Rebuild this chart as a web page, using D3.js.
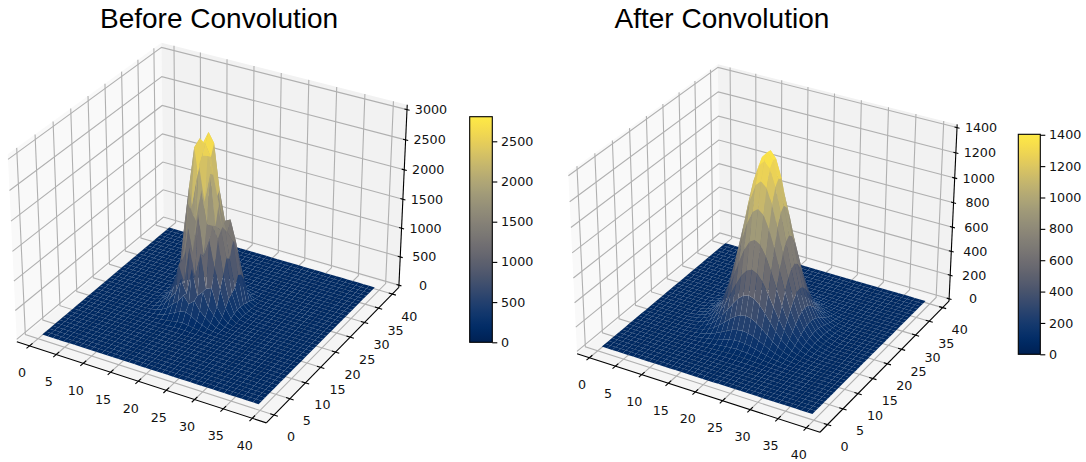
<!DOCTYPE html>
<html>
<head>
<meta charset="utf-8">
<script src="https://d3js.org/d3.v7.min.js"></script>
<style>
  body { margin: 0; background: #fff; }
  text { font-family: "DejaVu Sans", sans-serif; font-size: 12.7px; fill: #111; }
  .title { font-family: "Liberation Sans", sans-serif; font-size: 28px; fill: #000; }
</style>
</head>
<body>
<svg id="chart" width="1086" height="462"></svg>
<script>
const axisTicks = [0, 5, 10, 15, 20, 25, 30, 35, 40];
const beforeZTicks = [0, 500, 1000, 1500, 2000, 2500, 3000];
const afterZTicks = [0, 200, 400, 600, 800, 1000, 1200, 1400];
const beforeBarTicks = [0, 500, 1000, 1500, 2000, 2500];
const afterBarTicks = [0, 200, 400, 600, 800, 1000, 1200, 1400];

// values read off the bump, everything outside these tables is flat floor
// rows are y, columns are x
const beforeStartX = 9, beforeStartY = 12;
const beforePeak = [
  [0,0,0,0,0,2,5,9,14,20,16,9,6,3,1,0,0,0,0],
  [0,0,0,2,6,14,28,42,60,72,58,40,24,12,5,2,0,0,0],
  [0,0,2,8,20,48,90,140,190,210,170,110,70,35,14,5,1,0,0],
  [0,1,6,22,60,110,210,290,420,300,380,240,150,80,32,10,2,0,0],
  [0,2,14,45,120,240,360,620,400,850,420,520,280,170,62,20,5,1,0],
  [0,4,22,85,190,370,800,500,1150,650,1100,520,560,260,120,34,9,2,0],
  [1,6,36,120,300,560,820,1500,1000,1700,1000,1300,850,520,220,70,16,3,0],
  [1,8,44,160,340,700,900,1700,1500,2050,1500,1500,1300,720,330,100,24,5,1],
  [1,9,52,170,420,900,1700,1500,2400,1800,2300,1450,1400,950,380,120,30,6,1],
  [1,8,48,180,650,1100,1560,2100,2500,2520,2240,1780,1480,900,430,120,28,5,1],
  [1,7,60,260,1100,1850,2550,2720,2650,2460,1800,1350,1280,1150,600,110,26,5,1],
  [1,6,40,190,950,1500,2120,2600,2806,2650,1900,1400,1450,1100,560,90,20,4,0],
  [0,3,20,110,360,800,1280,1560,1900,1960,1320,1280,1040,800,420,70,14,3,0],
  [0,2,12,60,180,400,680,900,1100,1160,1240,1150,800,440,170,42,9,1,0],
  [0,1,6,26,80,180,320,450,560,620,640,520,320,130,50,14,3,0,0],
  [0,0,2,10,30,70,130,190,250,280,260,200,110,50,20,6,1,0,0],
  [0,0,1,4,11,24,44,66,90,100,90,64,38,16,7,2,0,0,0],
  [0,0,0,1,3,7,13,20,28,32,26,17,9,4,2,0,0,0,0],
  [0,0,0,0,1,2,3,5,8,9,7,4,2,1,0,0,0,0,0]
];

const afterStartX = 8, afterStartY = 7;
const afterPeak = [
  [0,0,0,1,1,1,2,3,5,6,7,8,8,8,7,6,5,3,2,1,1,1,0,0,0],
  [0,0,1,1,2,3,5,8,11,14,16,18,19,18,16,14,11,8,5,3,2,1,1,0,0],
  [0,1,1,2,4,7,11,16,23,29,35,38,40,38,35,29,23,16,11,7,4,2,1,1,0],
  [1,1,2,4,8,14,22,32,44,57,68,76,79,76,68,57,44,32,22,14,8,4,2,1,1],
  [1,2,4,8,15,25,40,59,81,104,125,138,144,138,125,104,81,59,40,25,15,8,4,2,1],
  [1,3,7,14,25,43,68,101,138,178,212,236,245,236,212,178,138,101,68,43,25,14,7,3,1],
  [2,5,11,22,40,68,108,160,220,282,337,375,389,375,337,282,220,160,108,68,40,22,11,5,2],
  [3,8,16,32,59,101,160,236,325,417,499,555,575,555,499,417,325,236,160,101,59,32,16,8,3],
  [5,11,23,44,81,138,220,325,449,575,687,765,792,765,687,575,449,325,220,138,81,44,23,11,5],
  [6,14,29,57,104,178,282,417,575,738,881,981,1016,981,881,738,575,417,282,178,104,57,29,14,6],
  [7,16,35,68,125,212,337,499,687,881,1052,1172,1214,1172,1052,881,687,499,337,212,125,68,35,16,7],
  [8,18,38,76,138,236,375,555,765,981,1172,1304,1351,1304,1172,981,765,555,375,236,138,76,38,18,8],
  [8,19,40,79,144,245,389,575,792,1016,1214,1351,1400,1351,1214,1016,792,575,389,245,144,79,40,19,8],
  [8,18,38,76,138,236,375,555,765,981,1200,1340,1395,1340,1200,981,765,555,375,236,138,76,38,18,8],
  [7,16,35,68,125,212,337,499,687,881,1052,1172,1214,1172,1052,881,687,499,337,212,125,68,35,16,7],
  [6,14,29,57,104,178,282,417,575,738,881,981,1016,981,881,738,575,417,282,178,104,57,29,14,6],
  [5,11,23,44,81,138,220,325,449,575,687,765,792,765,687,575,449,325,220,138,81,44,23,11,5],
  [3,8,16,32,59,101,160,236,325,417,499,555,575,555,499,417,325,236,160,101,59,32,16,8,3],
  [2,5,11,22,40,68,108,160,220,282,337,375,389,375,337,282,220,160,108,68,40,22,11,5,2],
  [1,3,7,14,25,43,68,101,138,178,212,236,245,236,212,178,138,101,68,43,25,14,7,3,1],
  [1,2,4,8,15,25,40,59,81,104,125,138,144,138,125,104,81,59,40,25,15,8,4,2,1],
  [1,1,2,4,8,14,22,32,44,57,68,76,79,76,68,57,44,32,22,14,8,4,2,1,1],
  [0,1,1,2,4,7,11,16,23,29,35,38,40,38,35,29,23,16,11,7,4,2,1,1,0],
  [0,0,1,1,2,3,5,8,11,14,16,18,19,18,16,14,11,8,5,3,2,1,1,0,0],
  [0,0,0,1,1,1,2,3,5,6,7,8,8,8,7,6,5,3,2,1,1,1,0,0,0]
];

const gridCells = d3.range(0, 39);

const svg = d3.select('#chart');

// same camera as a default mplot3d axes
const boxSize = [1.1905, 1.1905, 0.8929];
const azim = -60 * Math.PI / 180, elev = 30 * Math.PI / 180, camDist = 10;
const dot = (a, b) => a[0] * b[0] + a[1] * b[1] + a[2] * b[2];
const cross = (a, b) => [a[1] * b[2] - a[2] * b[1], a[2] * b[0] - a[0] * b[2], a[0] * b[1] - a[1] * b[0]];
const unit = a => { const n = Math.sqrt(dot(a, a)); return a.map(d => d / n); };
const camW = [Math.cos(elev) * Math.cos(azim), Math.cos(elev) * Math.sin(azim), Math.sin(elev)];
const camU = unit(cross([0, 0, 1], camW));
const camV = cross(camW, camU);
const eye = boxSize.map((d, i) => d / 2 + camDist * camW[i]);

function viewOf(p) {
  const d = p.map((c, i) => c - eye[i]);
  const depth = -dot(camW, d);
  return { sx: dot(camU, d) / depth, sy: dot(camV, d) / depth, depth };
}

// straight line fit, used to hang the camera view onto the pixel corners
function fit(xs, ys) {
  const mx = d3.mean(xs), my = d3.mean(ys);
  const a = d3.sum(xs, (x, i) => (x - mx) * (ys[i] - my)) / d3.sum(xs, x => (x - mx) * (x - mx));
  return v => a * (v - mx) + my;
}

function drawPanel(cfg) {
  const g = svg.append('g');
  const toX = d3.scaleLinear().domain(cfg.xLim).range([0, boxSize[0]]);
  const toY = d3.scaleLinear().domain(cfg.xLim).range([0, boxSize[1]]);
  const toZ = d3.scaleLinear().domain(cfg.zLim).range([0, boxSize[2]]);
  const [lo, hi] = cfg.xLim, [zlo, zhi] = cfg.zLim;

  const cornerViews = cfg.corners.map(c => viewOf([toX(c[0] ? hi : lo), toY(c[1] ? hi : lo), toZ(c[2] ? zhi : zlo)]));
  const pxX = fit(cornerViews.map(d => d.sx), cfg.corners.map(c => c[3]));
  const pxY = fit(cornerViews.map(d => d.sy), cfg.corners.map(c => c[4]));
  const project = (x, y, z) => {
    const v = viewOf([toX(x), toY(y), toZ(z)]);
    return [pxX(v.sx), pxY(v.sy), v.depth];
  };
  const line = d3.line();
  const path = pts => line(pts.map(p => project(p[0], p[1], p[2]).slice(0, 2)));

  // panes
  const panes = [
    { fill: '#f9f9f9', pts: [[lo, lo, zlo], [lo, hi, zlo], [lo, hi, zhi], [lo, lo, zhi]] },
    { fill: '#f2f2f2', pts: [[lo, hi, zlo], [hi, hi, zlo], [hi, hi, zhi], [lo, hi, zhi]] },
    { fill: '#f5f5f5', pts: [[lo, lo, zlo], [hi, lo, zlo], [hi, hi, zlo], [lo, hi, zlo]] }
  ];
  g.selectAll('.pane').data(panes).join('path')
    .attr('class', 'pane')
    .attr('fill', d => d.fill)
    .attr('d', d => path(d.pts) + 'Z');

  // grid lines
  const gridLines = [
    ...axisTicks.map(t => [[t, lo, zlo], [t, hi, zlo], [t, hi, zhi]]),
    ...axisTicks.map(t => [[hi, t, zlo], [lo, t, zlo], [lo, t, zhi]]),
    ...cfg.zTicks.map(t => [[hi, hi, t], [lo, hi, t], [lo, lo, t]])
  ];
  g.selectAll('.grid').data(gridLines).join('path')
    .attr('class', 'grid')
    .attr('fill', 'none')
    .attr('stroke', '#b0b0b0')
    .attr('stroke-width', 1.1)
    .attr('d', path);

  // axis lines and ticks
  const axisLines = [
    [[lo, lo, zlo], [hi, lo, zlo]],
    [[hi, lo, zlo], [hi, hi, zlo]],
    [[hi, hi, zlo], [hi, hi, zhi]],
    ...axisTicks.map(t => [[t, lo - 0.85, zlo], [t, lo + 0.85, zlo]]),
    ...axisTicks.map(t => [[hi - 0.65, t, zlo], [hi + 0.65, t, zlo]]),
    ...cfg.zTicks.map(t => [[hi - 0.45, hi, t], [hi + 0.45, hi, t]])
  ];
  g.selectAll('.axis').data(axisLines).join('path')
    .attr('class', 'axis')
    .attr('fill', 'none')
    .attr('stroke', '#000')
    .attr('stroke-width', 1.1)
    .attr('d', path);

  // tick labels
  const labels = [
    ...axisTicks.map(t => ({ t, p: project(t, lo, zlo), dx: -7.5, dy: 27 })),
    ...axisTicks.map(t => ({ t, p: project(hi, t, zlo), dx: 17, dy: 22 })),
    ...cfg.zTicks.map(t => ({ t, p: project(hi, hi, t), dx: 24, dy: 0 }))
  ];
  g.selectAll('.tick-label').data(labels).join('text')
    .attr('class', 'tick-label')
    .attr('text-anchor', 'middle')
    .attr('dominant-baseline', 'central')
    .attr('x', d => d.p[0] + d.dx)
    .attr('y', d => d.p[1] + d.dy)
    .text(d => d.t);

  // surface, back to front by mean depth of each quad
  const zAt = (i, j) => {
    const row = cfg.peak[j - cfg.startY];
    const v = row ? row[i - cfg.startX] : undefined;
    return v === undefined ? 0 : v;
  };
  const color = d3.scaleSequential(d3.interpolateCividis).domain([-cfg.zMax * 0.05, cfg.zMax]);
  const quads = [];
  gridCells.forEach(j => gridCells.forEach(i => {
    const pts = [[i, j], [i + 1, j], [i + 1, j + 1], [i, j + 1]].map(c => [c[0], c[1], zAt(c[0], c[1])]);
    const proj = pts.map(p => project(p[0] + cfg.shift[0], p[1] + cfg.shift[1], p[2]));
    quads.push({
      d: line(proj.map(p => p.slice(0, 2))) + 'Z',
      depth: d3.mean(proj, p => p[2]),
      mean: d3.mean(pts, p => p[2])
    });
  }));
  quads.sort((a, b) => b.depth - a.depth);
  g.append('g').selectAll('path').data(quads).join('path')
    .attr('fill', d => color(d.mean))
    .attr('d', d => d.d);

  // title
  g.append('text').attr('class', 'title').attr('x', cfg.titleX).attr('y', 28).text(cfg.title);

  // colorbar
  const gradId = 'grad' + Math.round(cfg.titleX);
  svg.append('defs').append('linearGradient').attr('id', gradId)
    .attr('x1', 0).attr('x2', 0).attr('y1', 1).attr('y2', 0)
    .selectAll('stop').data(d3.range(0, 1.001, 0.02)).join('stop')
    .attr('offset', d => d)
    .attr('stop-color', d => d3.interpolateCividis(d));
  const bar = cfg.bar;
  const barScale = d3.scaleLinear().domain([0, cfg.zMax]).range([bar.bottom, bar.top]);
  g.append('rect')
    .attr('x', bar.left).attr('y', bar.top)
    .attr('width', bar.right - bar.left).attr('height', bar.bottom - bar.top)
    .attr('fill', `url(#${gradId})`)
    .attr('stroke', '#000').attr('stroke-width', 1.1);
  const barAxis = g.append('g')
    .attr('transform', `translate(${bar.right},0)`)
    .call(d3.axisRight(barScale).tickValues(cfg.barTicks).tickSize(5).tickPadding(3.7).tickFormat(d3.format('d')));
  barAxis.select('.domain').remove();
  barAxis.selectAll('line').attr('stroke-width', 1.1);
  barAxis.selectAll('text').style('font-family', '"DejaVu Sans", sans-serif').style('font-size', '12.7px');
}

drawPanel({
  title: 'Before Convolution',
  titleX: 100,
  peak: beforePeak, startX: beforeStartX, startY: beforeStartY,
  shift: [0.3, 0.8],
  zMax: 2806,
  zTicks: beforeZTicks, barTicks: beforeBarTicks,
  xLim: [-2.4, 42.4], zLim: [-40, 3080],
  corners: [
    [0, 0, 0, 16.7, 341.7], [1, 0, 0, 266.7, 424], [1, 1, 0, 399, 285],
    [1, 1, 1, 407, 106], [0, 1, 1, 161, 42], [0, 0, 1, 8, 155]
  ],
  bar: { left: 469.7, right: 492.3, top: 116.7, bottom: 342.3 }
});

drawPanel({
  title: 'After Convolution',
  titleX: 614.5,
  peak: afterPeak, startX: afterStartX, startY: afterStartY,
  shift: [0.3, 0.8],
  zMax: 1403,
  zTicks: afterZTicks, barTicks: afterBarTicks,
  xLim: [-2.4, 42.4], zLim: [-20, 1425],
  corners: [
    [0, 0, 0, 576.7, 353.3], [1, 0, 0, 820, 433.3], [1, 1, 0, 949.3, 298.3],
    [1, 1, 1, 956.7, 126.7], [0, 1, 1, 718.3, 61.7], [0, 0, 1, 568.3, 175]
  ],
  bar: { left: 1018.3, right: 1040.3, top: 134.3, bottom: 354.3 }
});
</script>
</body>
</html>
